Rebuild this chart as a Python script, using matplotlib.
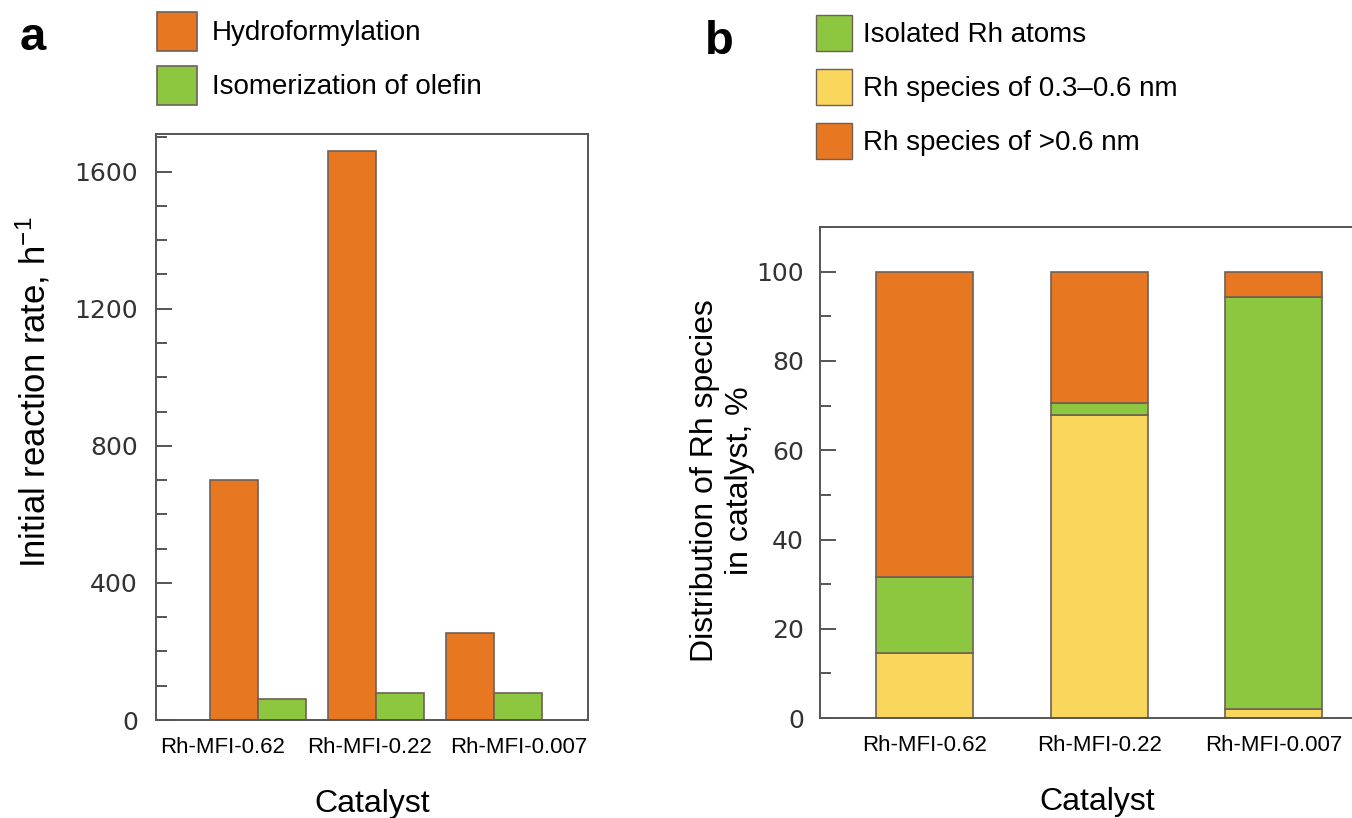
import matplotlib as mpl
import matplotlib.pyplot as plt
import numpy as np
from matplotlib.patches import Patch
from matplotlib.ticker import MultipleLocator

mpl.rcParams.update({'font.family': 'Liberation Sans',
                     'font.size': 15,
                     'mathtext.fontset': 'custom',
                     'mathtext.rm': 'Liberation Sans',
                     'mathtext.it': 'Liberation Sans:italic'})

catalysts = ["Rh-MFI-0.62", "Rh-MFI-0.22", "Rh-MFI-0.007"]

# panel a: initial reaction rate (h^-1)
hydroformylation = [700, 1660, 255]
isomerization = [62, 80, 80]

# panel b: distribution of Rh species in catalyst (%)
rh_small = [14.5, 68.0, 2.0]      # 0.3-0.6 nm
rh_isolated = [17.0, 2.5, 92.3]   # isolated atoms
rh_large = [68.5, 29.5, 5.7]      # >0.6 nm

ORANGE = '#E87722'
GREEN = '#8DC63F'
YELLOW = '#F9D65C'
EDGE = '#6E6055'
SPINE = '#555555'


def style_axis(ax, major, minor, pad):
    for s in ax.spines.values():
        s.set_color(SPINE)
        s.set_linewidth(1.4)
    ax.yaxis.set_major_locator(MultipleLocator(major))
    ax.yaxis.set_minor_locator(MultipleLocator(minor))
    ax.tick_params(axis='y', which='both', direction='in', color=SPINE,
                   width=1.4, pad=pad, labelsize=18, labelcolor='#333333',
                   labelfontfamily='DejaVu Sans')
    ax.tick_params(axis='y', which='major', length=11.5)
    ax.tick_params(axis='y', which='minor', length=8)
    ax.tick_params(axis='x', length=0, pad=12, labelsize=16)


fig = plt.figure(figsize=(13.52, 8.18), dpi=100)

# ---- panel a
ax = fig.add_axes([0.1154, 0.1198, 0.3195, 0.7164])
x = np.arange(len(catalysts))
w = 0.41
ax.bar(x - w / 2, hydroformylation, width=w, color=ORANGE, edgecolor=EDGE,
       linewidth=1.2, label='Hydroformylation')
ax.bar(x + w / 2, isomerization, width=w, color=GREEN, edgecolor=EDGE,
       linewidth=1.2, label='Isomerization of olefin')
ax.set_xlim(-0.864, 2.797)
ax.set_ylim(0, 1710)
style_axis(ax, 400, 100, 13)
label_x = [-0.30, 0.95, 2.21]
ax.set_xticks(label_x, catalysts)
ax.set_ylabel('Initial reaction rate, h$^{-1}$', fontsize=25)
ax.yaxis.set_label_coords(-0.240, 0.56)
ax.set_xlabel('Catalyst', fontsize=23, va='top')
ax.xaxis.set_label_coords(0.5, -0.117)

h, l = ax.get_legend_handles_labels()
fig.legend(h, l, loc='upper left', bbox_to_anchor=(157 / 1352, 1 - 12 / 818),
           frameon=False, borderpad=0, borderaxespad=0, fontsize=20,
           handlelength=1.44, handleheight=1.78, labelspacing=0.54,
           handletextpad=0.54)
fig.text(20 / 1352, 1 - 38 / 818, 'a', fontsize=34, fontweight='bold',
         va='center', ha='left')

# ---- panel b
ax2 = fig.add_axes([0.6065, 0.1222, 0.3935, 0.6002])
wb = 0.556
bottom = np.zeros(len(catalysts))
ax2.bar(x, rh_small, width=wb, bottom=bottom, color=YELLOW, edgecolor=EDGE,
        linewidth=1.2)
bottom += rh_small
ax2.bar(x, rh_isolated, width=wb, bottom=bottom, color=GREEN, edgecolor=EDGE,
        linewidth=1.2)
bottom += rh_isolated
ax2.bar(x, rh_large, width=wb, bottom=bottom, color=ORANGE, edgecolor=EDGE,
        linewidth=1.2)
ax2.set_xlim(-0.60, 2.447)
ax2.set_ylim(0, 110)
style_axis(ax2, 20, 10, 11.5)
ax2.spines['right'].set_visible(False)
ax2.set_xticks(x, catalysts)
ax2.set_ylabel('Distribution of Rh species\nin catalyst, %', fontsize=23,
               linespacing=1.2)
ax2.yaxis.set_label_coords(-0.122, 0.483)
ax2.set_xlabel('Catalyst', fontsize=23, va='top')
ax2.xaxis.set_label_coords(0.521, -0.14)

handles_b = [Patch(facecolor=GREEN, edgecolor=EDGE, label='Isolated Rh atoms'),
             Patch(facecolor=YELLOW, edgecolor=EDGE, label='Rh species of 0.3\u20130.6 nm'),
             Patch(facecolor=ORANGE, edgecolor=EDGE, label='Rh species of >0.6 nm')]
fig.legend(handles=handles_b, loc='upper left',
           bbox_to_anchor=(816 / 1352, 1 - 15 / 818),
           frameon=False, borderpad=0, borderaxespad=0, fontsize=20,
           handlelength=1.3, handleheight=1.615, labelspacing=0.65,
           handletextpad=0.4)
fig.text(705 / 1352, 1 - 42 / 818, 'b', fontsize=34, fontweight='bold',
         va='center', ha='left')

fig.savefig('out.png', dpi=100)
